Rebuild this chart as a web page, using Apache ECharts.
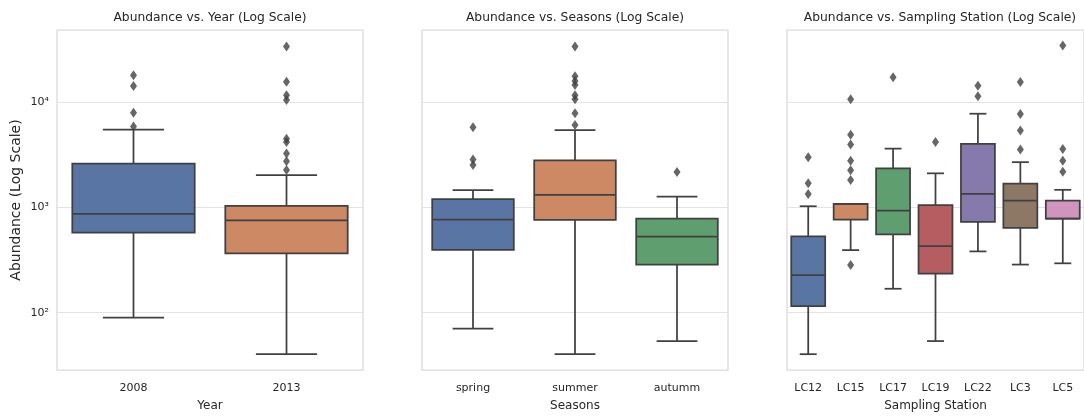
<!DOCTYPE html>
<html><head><meta charset="utf-8">
<script src="https://cdn.jsdelivr.net/npm/echarts@6/dist/echarts.min.js"></script>
<style>html,body{margin:0;padding:0;background:#fff}#c{width:1084px;height:417px}</style>
</head><body><div id="c"></div>
<script>
// ---- data ----
const yearCategories = ['2008', '2013'];
const yearLow    = [90, 40.3];
const yearQ1     = [578, 367];
const yearMedian = [872, 754];
const yearQ3     = [2615, 1037];
const yearHigh   = [5530, 2042];
const yearOutliers = [
  [18200, 14340, 8000, 5900],
  [34100, 15780, 11730, 10590, 4520, 4210, 3268, 2765, 2276]
];

const seasonCategories = ['spring', 'summer', 'autumm'];
const seasonLow    = [70.7, 40.3, 53.7];
const seasonQ1     = [397, 766, 287];
const seasonMedian = [770, 1324, 530];
const seasonQ3     = [1206, 2807, 787];
const seasonHigh   = [1467, 5450, 1269];
const seasonOutliers = [
  [5825, 2868, 2536],
  [34100, 17810, 15980, 14650, 11730, 10750, 7885, 6120],
  [2179]
];

const stationCategories = ['LC12', 'LC15', 'LC17', 'LC19', 'LC22', 'LC3', 'LC5'];
const stationLow    = [40.3, 394, 169, 53.7, 383, 287, 295];
const stationQ1     = [115.6, 770, 557, 236, 733, 640, 787];
const stationMedian = [227.8, 1083, 936, 429.5, 1353, 1163, 787];
const stationQ3     = [533, 1083, 2361, 1053, 4031, 1695, 1163];
const stationHigh   = [1030, 1083, 3640, 2118, 7819, 2706, 1476];
const stationOutliers = [
  [3015, 1706, 1345],
  [10750, 4930, 3995, 2790, 2261, 1833, 284.6],
  [17430],
  [4210],
  [14470, 11470],
  [15640, 7767, 5413, 3563],
  [34850, 3617, 2790, 2198]
];

const yTickValues = [100, 1000, 10000];

// ---- styles ----
const boxColors = ['#5975a4', '#cc8963', '#5f9e6e', '#b55d60', '#857aab', '#8d7866', '#d095bf'];
const EDGE = '#404040';
const LW = 1.75;
const FONT = 'DejaVu Sans';
const SUP = {2: '\u00b2', 3: '\u00b3', 4: '\u2074'};

function renderBox(params, api) {
  const i = api.value(0);
  const lo = api.coord([i, api.value(1)]);
  const q1 = api.coord([i, api.value(2)]);
  const md = api.coord([i, api.value(3)]);
  const q3 = api.coord([i, api.value(4)]);
  const hi = api.coord([i, api.value(5)]);
  const bw = api.size([1, 0])[0] * 0.8;
  const cx = lo[0];
  const ls = {stroke: EDGE, lineWidth: LW};
  return {type: 'group', children: [
    {type: 'line', shape: {x1: cx, y1: q1[1], x2: cx, y2: lo[1]}, style: ls},
    {type: 'line', shape: {x1: cx, y1: q3[1], x2: cx, y2: hi[1]}, style: ls},
    {type: 'line', shape: {x1: cx - bw / 4, y1: lo[1], x2: cx + bw / 4, y2: lo[1]}, style: ls},
    {type: 'line', shape: {x1: cx - bw / 4, y1: hi[1], x2: cx + bw / 4, y2: hi[1]}, style: ls},
    {type: 'rect', shape: {x: cx - bw / 2, y: q3[1], width: bw, height: q1[1] - q3[1]},
      style: {fill: boxColors[params.dataIndex], stroke: EDGE, lineWidth: LW}},
    {type: 'line', shape: {x1: cx - bw / 2, y1: md[1], x2: cx + bw / 2, y2: md[1]}, style: ls}
  ]};
}

const panels = [
  {title: 'Abundance vs. Year (Log Scale)', xname: 'Year', cats: yearCategories,
   low: yearLow, q1: yearQ1, med: yearMedian, q3: yearQ3, high: yearHigh, out: yearOutliers, left: 57, showY: true},
  {title: 'Abundance vs. Seasons (Log Scale)', xname: 'Seasons', cats: seasonCategories,
   low: seasonLow, q1: seasonQ1, med: seasonMedian, q3: seasonQ3, high: seasonHigh, out: seasonOutliers, left: 422, showY: false},
  {title: 'Abundance vs. Sampling Station (Log Scale)', xname: 'Sampling Station', cats: stationCategories,
   low: stationLow, q1: stationQ1, med: stationMedian, q3: stationQ3, high: stationHigh, out: stationOutliers, left: 787, showY: false}
];
const GW = 306, GTOP = 30, GH = 344;

const option = {
  backgroundColor: '#fff',
  animation: false,
  title: [], grid: [], xAxis: [], yAxis: [], series: []
};

panels.forEach((p, k) => {
  option.title.push({text: p.title, left: p.left + GW / 2, top: 12, textAlign: 'center', padding: 0,
    textStyle: {fontFamily: FONT, fontSize: 12.3, fontWeight: 'normal', color: '#262626'}});
  option.grid.push({left: p.left, top: GTOP, width: GW, height: GH, show: true,
    borderColor: '#d9d9d9', borderWidth: 1.25, backgroundColor: '#fff'});
  option.xAxis.push({type: 'category', gridIndex: k, data: p.cats,
    axisLine: {show: false}, axisTick: {show: false}, splitLine: {show: false},
    axisLabel: {fontFamily: FONT, fontSize: 11, color: '#262626', margin: 13},
    name: p.xname, nameLocation: 'middle', nameGap: 30,
    nameTextStyle: {fontFamily: FONT, fontSize: 12, color: '#262626'}});
  option.yAxis.push({type: 'log', logBase: 10, gridIndex: k, min: 28.5, max: 48950,
    axisLine: {show: false}, axisTick: {show: false},
    splitLine: {show: true, lineStyle: {color: '#e3e3e3', width: 1.2}},
    axisLabel: {show: p.showY, fontFamily: FONT, fontSize: 11, color: '#262626', margin: 8,
      formatter: function (v) {
        const e = Math.log10(v), r = Math.round(e);
        if (Math.abs(e - r) > 1e-6 || yTickValues.indexOf(Math.pow(10, r)) < 0) return '';
        return '10' + SUP[r];
      }},
    name: p.showY ? 'Abundance (Log Scale)' : '', nameLocation: 'middle', nameGap: 34,
    nameTextStyle: {fontFamily: FONT, fontSize: 14, color: '#262626'}});
  const boxData = p.cats.map((c, i) => [i, p.low[i], p.q1[i], p.med[i], p.q3[i], p.high[i]]);
  option.series.push({type: 'custom', xAxisIndex: k, yAxisIndex: k, renderItem: renderBox,
    encode: {x: 0, y: [1, 2, 3, 4, 5]}, data: boxData, z: 2});
  const outData = [];
  p.out.forEach((arr, i) => arr.forEach(v => outData.push([i, v])));
  option.series.push({type: 'scatter', xAxisIndex: k, yAxisIndex: k, data: outData,
    symbol: 'diamond', symbolSize: [7, 10], itemStyle: {color: EDGE}, z: 3});
});

const chart = echarts.init(document.getElementById('c'), null, {renderer: 'canvas'});
chart.setOption(option);
</script>
</body></html>
